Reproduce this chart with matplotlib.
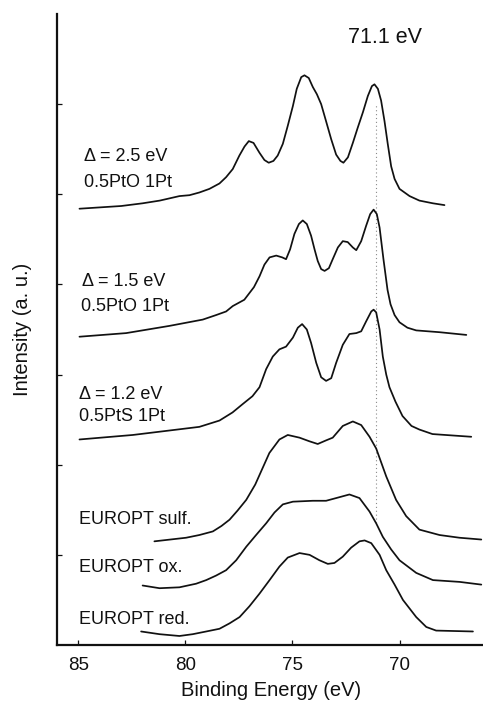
import matplotlib
matplotlib.use("Agg")
import matplotlib.pyplot as plt

plt.rcParams['font.family'] = ['Liberation Sans', 'DejaVu Sans']

# ---------------- data ----------------
# Delta = 2.5 eV, 0.5PtO 1Pt
e_d25 = [84.95, 83.00, 82.00, 81.20, 80.28, 79.81, 79.35, 78.88, 78.41, 78.10, 77.79,
         77.48, 77.24, 77.04, 76.82, 76.54, 76.31, 76.11, 75.89, 75.69, 75.45, 75.22,
         74.98, 74.80, 74.59, 74.44, 74.24, 74.05, 73.86, 73.66, 73.43, 73.19, 72.96,
         72.76, 72.62, 72.41, 72.18, 71.95, 71.71, 71.48, 71.29, 71.17, 71.01, 70.86,
         70.70, 70.55, 70.39, 70.23, 70.00, 69.53, 69.07, 68.44, 67.90]
i_d25 = [4.84, 4.87, 4.90, 4.93, 4.98, 4.99, 5.02, 5.06, 5.12, 5.19, 5.28,
         5.43, 5.53, 5.59, 5.57, 5.46, 5.38, 5.35, 5.37, 5.43, 5.56, 5.76,
         5.98, 6.17, 6.30, 6.32, 6.29, 6.19, 6.11, 6.00, 5.81, 5.61, 5.44,
         5.37, 5.35, 5.41, 5.57, 5.74, 5.91, 6.09, 6.20, 6.22, 6.17, 6.04,
         5.81, 5.56, 5.31, 5.17, 5.06, 4.98, 4.93, 4.90, 4.88]

# Delta = 1.5 eV, 0.5PtO 1Pt
e_d15 = [84.95, 82.77, 80.75, 79.19, 78.57, 78.10, 77.79, 77.25, 76.80, 76.54, 76.31,
         76.07, 75.76, 75.48, 75.30, 75.11, 74.91, 74.70, 74.52, 74.33, 74.13, 73.97,
         73.82, 73.66, 73.50, 73.30, 73.12, 72.88, 72.65, 72.42, 72.18, 72.02, 71.79,
         71.56, 71.37, 71.21, 71.06, 70.93, 70.75, 70.56, 70.42, 70.23, 70.00, 69.63,
         69.22, 68.13, 66.88]
i_d15 = [3.42, 3.46, 3.54, 3.61, 3.66, 3.70, 3.76, 3.83, 3.97, 4.09, 4.22,
         4.30, 4.32, 4.30, 4.28, 4.39, 4.56, 4.67, 4.71, 4.67, 4.54, 4.39,
         4.26, 4.17, 4.15, 4.18, 4.28, 4.41, 4.48, 4.47, 4.41, 4.38, 4.48,
         4.65, 4.78, 4.83, 4.78, 4.63, 4.28, 3.94, 3.78, 3.66, 3.58, 3.52,
         3.49, 3.47, 3.44]

# Delta = 1.2 eV, 0.5PtS 1Pt
e_d12 = [84.95, 82.46, 79.35, 78.41, 77.80, 77.34, 76.87, 76.54, 76.23, 75.92, 75.61,
         75.30, 74.98, 74.75, 74.55, 74.33, 74.13, 73.89, 73.66, 73.43, 73.19, 72.96,
         72.65, 72.34, 72.02, 71.79, 71.56, 71.32, 71.21, 71.09, 70.93, 70.78, 70.62,
         70.47, 70.19, 69.86, 69.44, 69.07, 68.46, 66.65]
i_d12 = [2.28, 2.33, 2.42, 2.49, 2.58, 2.67, 2.76, 2.86, 3.06, 3.20, 3.28,
         3.31, 3.41, 3.52, 3.56, 3.50, 3.35, 3.13, 2.97, 2.93, 2.96, 3.13,
         3.33, 3.45, 3.46, 3.48, 3.59, 3.70, 3.72, 3.69, 3.50, 3.20, 3.00,
         2.86, 2.70, 2.54, 2.43, 2.39, 2.34, 2.31]

# EUROPT sulf.
e_sulf = [81.45, 79.97, 79.35, 78.72, 78.32, 77.94, 77.57, 77.16, 76.74, 76.08, 75.61,
          75.22, 74.67, 74.21, 73.82, 73.43, 73.12, 72.65, 72.18, 71.79, 71.40, 71.09,
          70.62, 70.16, 69.69, 69.07, 68.13, 67.20, 66.18]
i_sulf = [1.15, 1.19, 1.22, 1.26, 1.32, 1.39, 1.49, 1.61, 1.78, 2.13, 2.28,
          2.33, 2.30, 2.26, 2.23, 2.27, 2.30, 2.43, 2.48, 2.44, 2.31, 2.18,
          1.87, 1.61, 1.43, 1.28, 1.22, 1.19, 1.17]

# EUROPT ox.
e_ox = [82.00, 81.21, 80.28, 79.50, 79.03, 78.57, 78.10, 77.63, 77.16, 76.70, 76.23,
        75.84, 75.45, 74.98, 74.05, 73.43, 72.96, 72.34, 71.87, 71.40, 71.09, 70.78,
        70.39, 70.00, 69.22, 68.44, 67.19, 66.18]
i_ox = [0.66, 0.63, 0.64, 0.68, 0.72, 0.77, 0.83, 0.94, 1.09, 1.22, 1.35,
        1.47, 1.56, 1.59, 1.60, 1.60, 1.63, 1.67, 1.63, 1.48, 1.35, 1.20,
        1.06, 0.94, 0.80, 0.72, 0.70, 0.67]

# EUROPT red.
e_red = [82.07, 81.21, 80.28, 79.66, 79.03, 78.41, 77.94, 77.47, 77.01, 76.54, 76.07,
         75.61, 75.22, 74.67, 74.20, 73.74, 73.35, 73.04, 72.65, 72.26, 71.87, 71.63,
         71.32, 70.93, 70.62, 70.23, 69.84, 69.22, 68.75, 68.29, 66.57]
i_red = [0.15, 0.12, 0.10, 0.12, 0.15, 0.18, 0.24, 0.31, 0.43, 0.57, 0.72,
         0.87, 0.97, 1.02, 1.00, 0.94, 0.90, 0.91, 0.98, 1.08, 1.15, 1.16,
         1.13, 1.00, 0.83, 0.67, 0.50, 0.31, 0.20, 0.16, 0.15]

curves = [(e_d25, i_d25), (e_d15, i_d15), (e_d12, i_d12),
          (e_sulf, i_sulf), (e_ox, i_ox), (e_red, i_red)]

labels = ["\u0394 = 2.5 eV", "0.5PtO 1Pt", "\u0394 = 1.5 eV", "0.5PtO 1Pt",
          "\u0394 = 1.2 eV", "0.5PtS 1Pt", "EUROPT sulf.", "EUROPT ox.", "EUROPT red."]
label_e = [84.72, 84.72, 84.81, 84.86, 84.95, 84.95, 84.95, 84.95, 84.95]
label_i = [5.42, 5.13, 4.03, 3.76, 2.78, 2.53, 1.39, 0.86, 0.28]

ref_energy = 71.1
ref_label = "71.1 eV"
x_ticks = [85, 80, 75, 70]
x_ticklabels = ["85", "80", "75", "70"]

# ---------------- figure ----------------
fig = plt.figure(figsize=(4.83, 7.02), dpi=100)
ax = fig.add_axes([57 / 483, 1 - 645 / 702, 426 / 483, 631 / 702])

ax.vlines(ref_energy, 1.35, 6.0, colors="#8a8a8a", linestyles=(0, (1, 2.5)),
          lw=0.8, zorder=0)

for e, i in curves:
    ax.plot(e, i, color="#111111", lw=1.25, solid_joinstyle="round",
            solid_capstyle="round", zorder=2)

for s, xe, yi in zip(labels, label_e, label_i):
    ax.text(xe, yi, s, ha="left", va="center", fontsize=13, color="#111111")

ax.text(70.70, 6.74, ref_label, ha="center", va="center", fontsize=15.5, color="#111111")

ax.set_xlim(86, 66.1)
ax.set_ylim(0, 7)
ax.set_xticks(x_ticks)
ax.set_xticklabels(x_ticklabels)
ax.set_yticks(range(1, 7))
ax.set_yticklabels([])

ax.tick_params(axis="both", direction="in", length=3.5, width=0.9, colors="#111111")
ax.tick_params(axis="x", labelsize=13.5, pad=9)

for side in ("top", "right"):
    ax.spines[side].set_visible(False)
for side in ("left", "bottom"):
    ax.spines[side].set_linewidth(1.6)
    ax.spines[side].set_color("#111111")

ax.set_xlabel("Binding Energy (eV)", fontsize=14.5, color="#111111")
ax.set_ylabel("Intensity (a. u.)", fontsize=14.5, color="#111111")
ax.xaxis.set_label_coords((271 - 57) / 426, (645 - 681) / 631)
ax.yaxis.set_label_coords((32 - 57) / 426, 0.5)

fig.savefig("out.png", dpi=100)
